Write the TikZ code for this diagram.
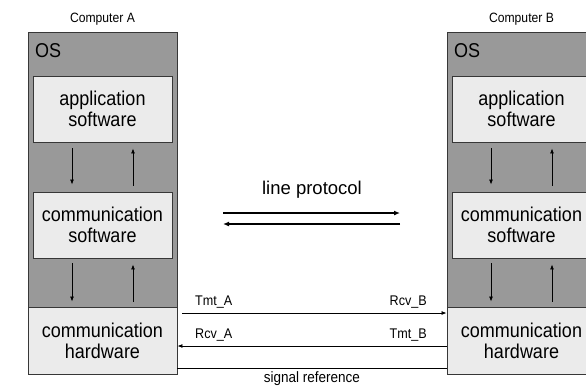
\documentclass[tikz,border=0pt]{standalone}
\usepackage{fontspec}
\setmainfont{Liberation Sans}
\newfontfamily\narrowfont[FakeStretch=0.9]{Liberation Sans}
\usetikzlibrary{arrows.meta,calc}
\definecolor{osgray}{RGB}{153,153,153}
\definecolor{boxfill}{RGB}{235,235,235}
\definecolor{edgecol}{RGB}{55,55,55}
\begin{document}
\begin{tikzpicture}[x=1pt,y=-1pt,
  osbox/.style={draw=edgecol,fill=osgray,line width=0.9pt,inner sep=0pt},
  inbox/.style={draw=edgecol,fill=boxfill,line width=0.9pt,align=center,
    font=\narrowfont\fontsize{20}{21}\selectfont,inner sep=0pt},
  bigtext/.style={font=\narrowfont\fontsize{20}{21}\selectfont,inner sep=0pt},
  lptext/.style={font=\fontsize{18.5}{21}\selectfont,inner sep=0pt},
  titletext/.style={font=\narrowfont\fontsize{13.5}{15}\selectfont,inner sep=0pt},
  smalltext/.style={font=\narrowfont\fontsize{14}{16}\selectfont,inner sep=0pt},
  reftext/.style={font=\narrowfont\fontsize{15}{17}\selectfont,inner sep=0pt},
  thinarrow/.style={line width=0.8pt,-{Latex[length=5pt,width=4pt]}},
  thinline/.style={line width=0.8pt},
  thickarrow/.style={line width=1.6pt,-{Latex[length=6pt,width=5pt]}}]
\useasboundingbox (0,0) rectangle (586,389);
\clip (0,0) rectangle (586,389);
\foreach \c/\dx in {A/0,B/419} {
  \begin{scope}[shift={(\dx,0)}]
    \node[osbox,minimum width=149,minimum height=275] (os\c) at (102.5,169.5) {};
    \node[bigtext,anchor=base west] (oslbl\c) at (35,57) {OS};
    \node[inbox,minimum width=139,minimum height=66] (app\c) at (102.5,109) {application\\software};
    \node[inbox,minimum width=139,minimum height=66] (sw\c) at (102.5,225) {communication\\software};
    \node[inbox,minimum width=149,minimum height=67] (hw\c) at (102.5,340.5) {communication\\hardware};
    \node[titletext,anchor=base] (title\c) at (102.5,22) {Computer \c};
    \draw[thinarrow] ($(app\c.south)+(-30.5,6)$) -- ($(sw\c.north)+(-30.5,-7)$);
    \draw[thinarrow] ($(sw\c.north)+(30.5,-6)$) -- ($(app\c.south)+(30.5,6)$);
    \draw[thinarrow] ($(sw\c.south)+(-30.5,5)$) -- ($(hw\c.north)+(-30.5,-5)$);
    \draw[thinarrow] ($(hw\c.north)+(30.5,-5)$) -- ($(sw\c.south)+(30.5,6)$);
  \end{scope}
}
% line protocol
\node[lptext,anchor=base] (lp) at (312,194.5) {line protocol};
\coordinate (lpL1) at (223,213);
\coordinate (lpR1) at (400,213);
\coordinate (lpL2) at (223,224);
\coordinate (lpR2) at (400,224);
\draw[thickarrow] (lpL1) -- (lpR1);
\draw[thickarrow] (lpR2) -- (lpL2);
% signal lines
\coordinate (tA) at (182,313);
\coordinate (yR) at (0,346);
\coordinate (yS) at (0,368);
\draw[thinarrow] (tA) -- (tA -| hwB.west);
\draw[thinarrow] (hwB.west |- yR) -- (hwA.east |- yR);
\draw[thinline] (hwA.east |- yS) -- (hwB.west |- yS);
\node[smalltext,anchor=base west] (lTmtA) at (195,305) {Tmt\_A};
\node[smalltext,anchor=base east] (lRcvB) at (427,305) {Rcv\_B};
\node[smalltext,anchor=base west] (lRcvA) at (195,338) {Rcv\_A};
\node[smalltext,anchor=base east] (lTmtB) at (427,338) {Tmt\_B};
\node[reftext,anchor=base] (sigref) at (312,382) {signal reference};
\end{tikzpicture}
\end{document}
